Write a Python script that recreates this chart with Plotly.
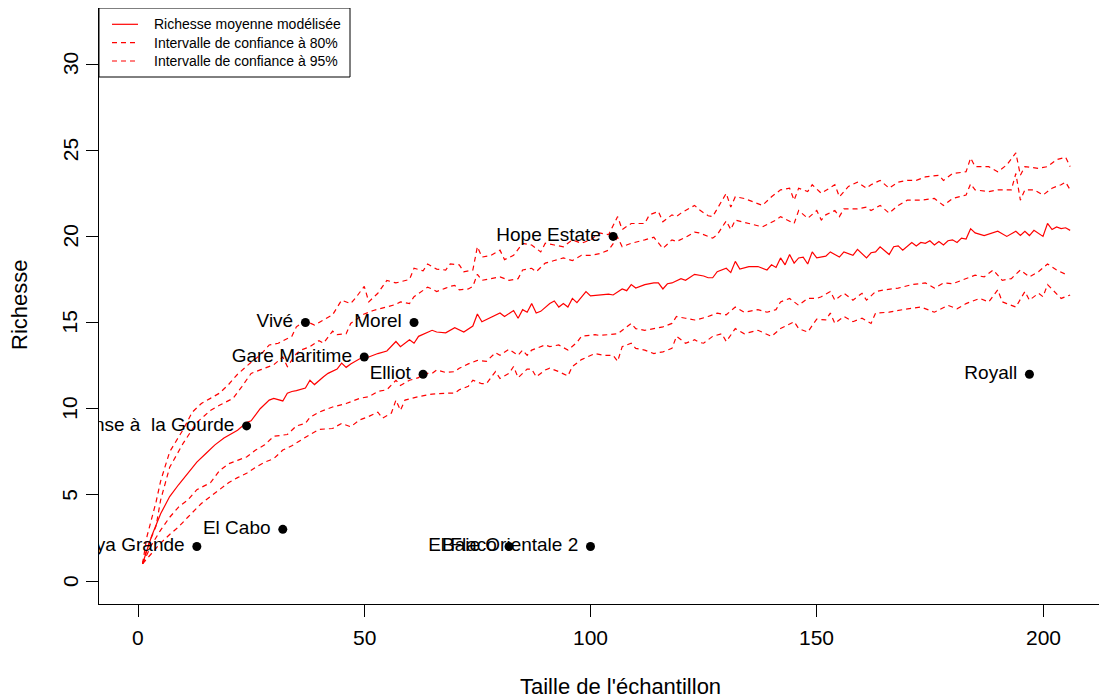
import plotly.graph_objects as go

# ---------------- data ----------------
mean_x = [1, 3, 5, 7, 9, 11, 13, 15, 17, 19, 21, 22, 24, 25, 27, 29, 30, 32, 33, 34, 35, 37, 38, 39, 41, 42,
          44, 45, 46, 47, 49, 51, 53, 55, 57, 58, 60, 61, 62, 65, 66, 68, 70, 72, 74, 75, 76, 78, 80, 81, 83,
          84, 85, 86, 87, 88, 89, 91, 92, 93, 94, 95, 96, 97, 99, 100, 102, 104, 105, 107, 108, 109, 110, 112,
          114, 115, 116, 117, 118, 120, 121, 123, 125, 126, 127, 128, 130, 131, 132, 133, 135, 137, 139, 140,
          141, 142, 143, 144, 145, 146, 147, 148, 149, 150, 152, 153, 155, 156, 158, 159, 161, 162, 163, 164,
          166, 167, 168, 169, 171, 172, 173, 174, 175, 176, 177, 178, 179, 180, 181, 182, 183, 184, 185, 187,
          190, 192, 194, 195, 196, 197, 198, 200, 201, 202, 203, 204, 205, 206]
mean_y = [1.0, 2.6, 3.9, 4.9, 5.6, 6.25, 6.9, 7.4, 7.9, 8.3, 8.6, 8.75, 9.2, 9.3, 10.0, 10.5, 10.6, 10.45, 10.9,
          11.0, 11.05, 11.2, 11.65, 11.4, 11.85, 12.05, 12.3, 12.65, 12.4, 12.6, 12.9, 13.0, 13.2, 13.35, 13.9,
          13.6, 14.0, 13.8, 14.2, 14.55, 14.45, 14.4, 14.7, 14.45, 14.8, 15.5, 15.05, 15.3, 15.55, 15.35, 15.7,
          15.25, 15.75, 15.6, 16.1, 15.55, 15.65, 16.1, 16.25, 15.9, 16.1, 15.9, 16.4, 16.15, 16.8, 16.55, 16.6,
          16.65, 16.6, 16.95, 16.85, 17.2, 17.0, 17.2, 17.3, 17.3, 16.95, 17.25, 17.3, 17.55, 17.45, 17.8, 17.7,
          17.6, 17.6, 17.95, 18.15, 17.9, 18.55, 18.1, 18.25, 18.25, 18.05, 18.35, 18.2, 18.75, 18.35, 18.95,
          18.45, 18.75, 18.8, 18.4, 19.1, 18.75, 18.85, 19.1, 18.8, 19.1, 18.9, 19.25, 18.75, 19.05, 19.1, 19.4,
          18.95, 19.4, 19.45, 19.2, 19.65, 19.45, 19.65, 19.6, 19.75, 19.5, 19.7, 19.5, 19.75, 19.8, 19.65,
          19.9, 19.85, 20.45, 20.2, 20.05, 20.3, 20.0, 20.3, 20.05, 20.3, 20.05, 20.35, 20.0, 20.75, 20.4,
          20.55, 20.45, 20.5, 20.35]

up95_x = [1, 2, 4, 5, 7, 10, 12, 14, 16, 18, 20, 22, 25, 27, 29, 31, 34, 35, 37, 39, 41, 43, 45, 47, 48, 50,
          51, 53, 55, 57, 60, 61, 63, 64, 66, 68, 69, 71, 72, 74, 75, 76, 78, 80, 81, 83, 85, 87, 89, 90, 92,
          94, 96, 98, 100, 102, 104, 106, 107, 109, 112, 113, 115, 116, 118, 119, 120, 123, 124, 126, 127, 128,
          130, 131, 132, 134, 136, 138, 140, 142, 144, 145, 146, 148, 149, 151, 154, 155, 157, 159, 161, 162,
          164, 166, 168, 170, 172, 174, 177, 178, 180, 183, 184, 185, 188, 190, 192, 194, 195, 196, 199, 201,
          203, 205, 206]
up95_y = [1.0, 2.6, 4.6, 5.8, 7.5, 8.8, 9.8, 10.3, 10.6, 10.9, 11.4, 12.0, 12.7, 13.1, 13.7, 13.8, 14.2, 14.75,
          15.1, 14.85, 15.15, 15.45, 16.3, 16.1, 16.4, 17.1, 16.2, 16.7, 17.45, 17.3, 17.5, 18.15, 18.0, 18.4,
          18.1, 18.05, 18.4, 18.35, 17.95, 18.05, 19.4, 18.8, 18.9, 19.2, 18.65, 18.9, 19.6, 19.5, 19.1, 19.6,
          19.5, 19.4, 19.8, 19.6, 19.8, 20.2, 20.1, 21.15, 20.4, 20.75, 20.75, 21.25, 21.45, 20.85, 21.25,
          21.15, 21.35, 21.8, 21.55, 21.2, 21.15, 21.6, 22.5, 21.7, 22.3, 22.2, 22.0, 21.8, 22.3, 22.7, 22.8,
          22.1, 22.8, 22.6, 23.0, 22.5, 23.0, 22.3, 22.9, 23.15, 22.8, 23.0, 23.25, 22.8, 23.15, 23.25, 23.25,
          23.45, 23.55, 23.25, 23.65, 23.75, 24.55, 24.05, 24.05, 23.75, 24.15, 24.85, 23.55, 24.05, 23.95,
          24.05, 24.45, 24.6, 24.05]

up80_x = [1, 2, 4, 5, 7, 10, 13, 16, 18, 21, 23, 25, 27, 30, 32, 33, 35, 36, 38, 40, 41, 43, 44, 46, 47, 49,
          50, 52, 55, 57, 58, 60, 61, 62, 64, 65, 66, 68, 69, 70, 71, 73, 74, 75, 76, 78, 80, 82, 84, 85, 87,
          88, 90, 92, 94, 96, 98, 100, 102, 104, 106, 107, 109, 112, 114, 116, 118, 119, 121, 123, 124, 126,
          127, 128, 130, 131, 132, 135, 138, 141, 142, 145, 146, 148, 150, 151, 152, 154, 155, 156, 159, 161,
          162, 164, 166, 168, 170, 173, 176, 178, 180, 183, 184, 185, 188, 190, 193, 194, 195, 196, 198, 200,
          202, 204, 205, 206]
up80_y = [1.0, 1.9, 3.2, 4.7, 6.6, 8.0, 9.2, 9.9, 10.2, 10.6, 11.3, 12.05, 12.25, 12.55, 13.0, 12.45, 13.2,
          13.4, 13.6, 13.95, 13.8, 14.5, 14.3, 14.35, 14.95, 15.3, 15.5, 15.7, 15.9, 16.05, 16.2, 16.1, 16.5,
          16.7, 17.05, 16.95, 16.8, 17.0, 17.1, 17.15, 16.9, 16.95, 17.1, 17.8, 17.45, 17.55, 17.65, 17.45,
          17.55, 18.05, 18.15, 17.95, 18.45, 18.6, 18.75, 18.6, 18.9, 18.9, 19.0, 19.2, 19.95, 19.4, 19.6, 19.8,
          19.95, 19.3, 19.8, 19.7, 19.95, 20.25, 20.2, 20.0, 19.9, 20.1, 20.9, 20.4, 20.95, 20.75, 20.55, 20.95,
          21.15, 20.75, 21.5, 21.05, 21.5, 20.95, 21.25, 21.5, 21.15, 21.6, 21.6, 21.7, 21.5, 21.8, 21.35, 21.8,
          22.1, 22.1, 22.2, 21.8, 22.2, 22.4, 23.05, 22.7, 22.6, 22.7, 22.7, 23.65, 22.1, 22.7, 22.7, 22.4,
          22.8, 23.0, 23.15, 22.7]

lo80_x = [1, 3, 5, 7, 9, 11, 13, 16, 18, 20, 22, 24, 26, 28, 30, 33, 35, 37, 38, 40, 43, 46, 49, 51, 53, 55,
          57, 58, 60, 62, 63, 65, 66, 68, 70, 71, 73, 75, 77, 79, 80, 82, 84, 85, 86, 87, 90, 91, 93, 95, 97,
          98, 101, 102, 104, 106, 109, 110, 112, 114, 116, 118, 119, 121, 123, 124, 126, 128, 130, 132, 134,
          137, 139, 141, 142, 144, 146, 148, 150, 151, 153, 154, 156, 158, 160, 161, 163, 165, 168, 171, 174,
          176, 178, 180, 182, 185, 187, 189, 191, 193, 195, 197, 199, 201, 203, 205]
lo80_y = [1.0, 2.1, 2.95, 3.7, 4.3, 4.7, 5.3, 5.7, 6.4, 6.8, 7.0, 7.2, 7.6, 7.9, 8.4, 8.5, 9.0, 9.15, 9.5, 9.8,
          10.1, 10.3, 10.6, 10.7, 11.0, 11.1, 11.65, 11.35, 11.65, 11.8, 12.05, 12.05, 12.25, 12.1, 12.15,
          12.35, 12.6, 12.8, 12.75, 13.25, 13.1, 13.45, 13.1, 13.4, 13.1, 13.4, 13.7, 13.6, 13.7, 13.4, 13.85,
          14.2, 14.3, 14.25, 14.3, 14.35, 14.95, 14.65, 14.55, 14.65, 14.75, 14.95, 15.35, 15.25, 15.15, 15.2,
          15.35, 15.55, 15.45, 15.9, 15.6, 15.75, 15.6, 15.75, 16.2, 16.4, 16.0, 16.4, 16.4, 16.5, 16.8, 16.3,
          16.7, 16.3, 16.7, 16.3, 16.8, 16.9, 17.0, 17.2, 17.3, 17.0, 17.3, 17.25, 17.45, 17.75, 17.65, 18.05,
          17.45, 17.55, 18.05, 17.65, 17.95, 18.4, 18.05, 17.8]

lo95_x = [1, 3, 5, 7, 9, 11, 14, 16, 18, 20, 22, 24, 26, 28, 30, 32, 34, 36, 38, 40, 43, 45, 47, 49, 51, 53,
          54, 56, 57, 58, 59, 62, 65, 68, 70, 71, 73, 74, 76, 77, 79, 80, 82, 83, 84, 86, 87, 88, 90, 91, 93,
          95, 96, 98, 100, 101, 103, 105, 106, 107, 109, 110, 112, 114, 116, 118, 119, 121, 123, 124, 125, 127,
          129, 130, 132, 134, 137, 140, 142, 145, 146, 148, 150, 152, 153, 154, 156, 158, 160, 162, 163, 166,
          169, 173, 176, 179, 181, 183, 186, 188, 190, 191, 192, 194, 196, 197, 199, 200, 201, 203, 204, 206]
lo95_y = [1.0, 1.6, 2.2, 2.7, 3.15, 3.7, 4.5, 4.9, 5.3, 5.7, 6.0, 6.25, 6.6, 6.9, 7.1, 7.6, 7.85, 8.2, 8.5,
          8.8, 8.85, 9.15, 8.95, 9.35, 9.55, 9.8, 9.45, 9.75, 10.5, 9.9, 10.5, 10.7, 10.85, 10.9, 10.9, 11.1,
          11.3, 11.65, 11.45, 11.45, 12.15, 11.75, 12.05, 12.45, 11.8, 12.3, 12.3, 11.85, 12.25, 12.35, 12.15,
          11.9, 12.45, 12.85, 13.1, 13.2, 13.1, 13.1, 12.75, 13.6, 13.8, 13.5, 13.4, 13.2, 13.3, 13.5, 14.2,
          13.8, 14.0, 13.85, 13.8, 14.2, 14.35, 13.9, 14.65, 14.35, 14.55, 14.2, 14.65, 15.05, 14.65, 14.45,
          15.2, 15.15, 15.55, 14.95, 15.35, 15.05, 15.25, 14.95, 15.55, 15.6, 15.75, 15.9, 15.6, 16.0, 15.8,
          16.1, 16.4, 16.2, 16.9, 16.2, 16.1, 15.9, 16.8, 16.3, 16.7, 16.5, 17.2, 16.7, 16.4, 16.6]

sites = ["Hope Estate", "Vivé", "Morel", "Gare Maritime", "Elliot", "Royall", "Anse à  la Gourde",
         "Playa Grande", "El Cabo", "El Flaco", "Baie Orientale 2"]
site_size = [105, 37, 61, 50, 63, 197, 24, 13, 32, 82, 100]
site_rich = [20, 15, 15, 13, 12, 12, 9, 2, 3, 2, 2]

x_ticks = [0, 50, 100, 150, 200]
y_ticks = [0, 5, 10, 15, 20, 25, 30]
legend_labels = ["Richesse moyenne modélisée", "Intervalle de confiance à 80%", "Intervalle de confiance à 95%"]
x_title = "Taille de l'échantillon"
y_title = "Richesse"

# ---------------- figure ----------------
FONT = "Liberation Sans, Arial, Helvetica, sans-serif"
RED = "#FF0000"
DASH = "5px,4px"
OFF = 8                      # page body margin in the browser
W, H = 1107 - OFF, 700 - OFF
ML, MR, MT, MB = 99 - OFF, 0, 0, 700 - 604
PW, PH = W - ML - MR, H - MT - MB


def px(xpix):
    """screen pixel x -> paper"""
    return (xpix - OFF - ML) / PW


def py(ypix):
    """screen pixel y -> paper"""
    return (H - MB - (ypix - OFF)) / PH


X0PIX, XSCALE = 138, 4.525     # screen px of x=0, px per unit
Y0PIX, YSCALE = 581, 17.23     # screen px of y=0, px per unit

fig = go.Figure()
for xs, ys, dash in [(up95_x, up95_y, DASH), (up80_x, up80_y, DASH), (mean_x, mean_y, "solid"),
                     (lo80_x, lo80_y, DASH), (lo95_x, lo95_y, DASH)]:
    fig.add_trace(go.Scatter(x=xs, y=ys, mode="lines", showlegend=False, hoverinfo="skip",
                             line=dict(color=RED, width=1.2, dash=dash)))

fig.add_trace(go.Scatter(x=site_size, y=site_rich, mode="markers+text", text=sites,
                         textposition="middle left", cliponaxis=True, showlegend=False,
                         marker=dict(size=18, color="rgba(0,0,0,0)"),
                         textfont=dict(family=FONT, size=19, color="black")))
fig.add_trace(go.Scatter(x=site_size, y=site_rich, mode="markers", showlegend=False,
                         marker=dict(size=9, color="black")))

annotations = []
for t in x_ticks:
    annotations.append(dict(x=t, xref="x", y=py(637), yref="paper", text=str(t), showarrow=False,
                            xanchor="center", yanchor="middle", font=dict(family=FONT, size=21, color="black")))
for t in y_ticks:
    annotations.append(dict(x=px(70), xref="paper", y=t, yref="y", text=str(t), showarrow=False,
                            textangle=-90, xanchor="center", yanchor="middle",
                            font=dict(family=FONT, size=21, color="black")))
annotations.append(dict(x=px(620), xref="paper", y=py(686), yref="paper", text=x_title, showarrow=False,
                        xanchor="center", yanchor="middle", font=dict(family=FONT, size=22, color="black")))
annotations.append(dict(x=px(19), xref="paper", y=py(305), yref="paper", text=y_title, showarrow=False,
                        textangle=-90, xanchor="center", yanchor="middle",
                        font=dict(family=FONT, size=22, color="black")))

shapes = [dict(type="rect", xref="paper", yref="paper", x0=px(99), x1=px(350), y0=py(77), y1=py(8),
               line=dict(color="black", width=1), fillcolor="white", layer="above")]
rows = [24.3, 42.7, 61]
dashes = ["solid", DASH, DASH]
for lab, r, d in zip(legend_labels, rows, dashes):
    shapes.append(dict(type="line", xref="paper", yref="paper", x0=px(112), x1=px(138), y0=py(r), y1=py(r),
                       line=dict(color=RED, width=1.2, dash=d), layer="above"))
    annotations.append(dict(x=px(152), xref="paper", y=py(r), yref="paper", text=lab, showarrow=False,
                            xanchor="left", yanchor="middle", font=dict(family=FONT, size=14, color="black")))

fig.update_layout(
    width=W, height=H, margin=dict(l=ML, r=MR, t=MT, b=MB, pad=0),
    paper_bgcolor="white", plot_bgcolor="white", showlegend=False,
    annotations=annotations, shapes=shapes,
    xaxis=dict(range=[(99 - X0PIX) / XSCALE, (1107 - X0PIX) / XSCALE], showgrid=False, zeroline=False,
               showline=True, linecolor="black", linewidth=1.3, ticks="outside", ticklen=12,
               tickcolor="black", tickwidth=1.3, tickvals=x_ticks, showticklabels=False),
    yaxis=dict(range=[(Y0PIX - 604) / YSCALE, (Y0PIX - OFF) / YSCALE], showgrid=False, zeroline=False,
               showline=True, linecolor="black", linewidth=1.3, ticks="outside", ticklen=12,
               tickcolor="black", tickwidth=1.3, tickvals=y_ticks, showticklabels=False),
)

fig.write_html("out.html")
